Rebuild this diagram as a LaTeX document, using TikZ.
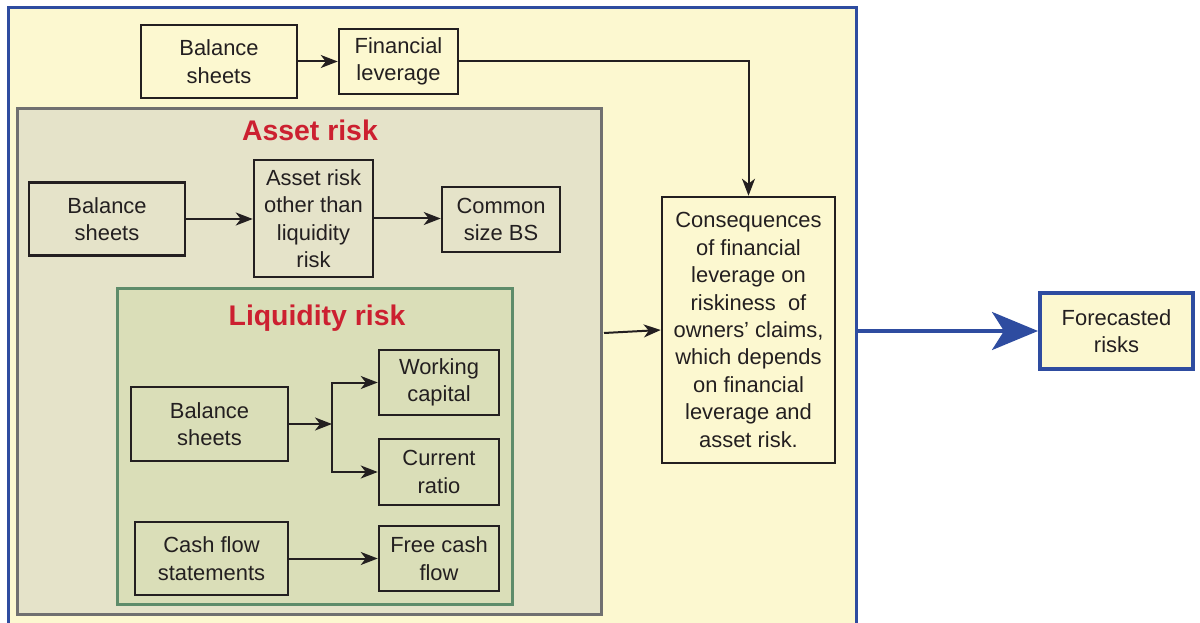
\documentclass[tikz,border=0pt]{standalone}
\usepackage{fontspec}
\setmainfont{Liberation Sans}
\usetikzlibrary{arrows.meta}
\definecolor{outerfill}{RGB}{252,248,208}
\definecolor{assetfill}{RGB}{229,227,201}
\definecolor{liqfill}{RGB}{218,222,184}
\definecolor{bluec}{RGB}{46,76,160}
\definecolor{grayc}{RGB}{112,112,112}
\definecolor{greenc}{RGB}{94,140,106}
\definecolor{redc}{RGB}{204,32,48}
\definecolor{inkc}{RGB}{35,31,32}
\tikzset{
  box/.style={draw=inkc, line width=2.5bp, inner sep=0pt, align=center, text=inkc,
    font=\fontsize{22}{27.5}\selectfont},
  title/.style={text=redc, font=\fontsize{28.5}{32}\selectfont\bfseries, inner sep=0pt},
  arr/.style={draw=inkc, line width=2bp, -{Stealth[length=17bp,width=13bp,inset=5bp]}},
  bigarr/.style={draw=bluec, line width=3.5bp, -{Stealth[length=46bp,width=38bp,inset=12bp]}},
}
\begin{document}
\begin{tikzpicture}[x=1bp,y=-1bp]
\useasboundingbox (0,0) rectangle (1200,623);
\clip (0,0) rectangle (1200,623);
\fill[white] (0,0) rectangle (1200,623);
% containers
\draw[draw=bluec, line width=3bp, fill=outerfill] (8,8) rectangle (856,650);
\draw[draw=grayc, line width=3bp, fill=assetfill] (17,109) rectangle (601,614);
\draw[draw=greenc, line width=3bp, fill=liqfill] (117,289) rectangle (512,604);
\node[title] (tasset) at (310,130) {Asset risk};
\node[title] (tliq) at (317,318) {Liquidity risk};
% boxes
\node[box, minimum width=156bp, minimum height=73bp] (bs1) at (219,61.5) {Balance\\sheets};
\node[box, minimum width=119bp, minimum height=65bp] (fl) at (398.5,61.5) {Financial\\leverage};
\node[box, minimum width=156bp, minimum height=73bp] (bs2) at (107,219) {Balance\\sheets};
\node[box, minimum width=119bp, minimum height=117bp] (ar) at (313.5,218.5) {Asset risk\\other than\\liquidity\\risk};
\node[box, minimum width=118bp, minimum height=65bp] (cs) at (501,219.5) {Common\\size BS};
\node[box, minimum width=157bp, minimum height=74bp] (bs3) at (209.5,424) {Balance\\sheets};
\node[box, minimum width=120bp, minimum height=65bp] (wc) at (439,382.5) {Working\\capital};
\node[box, minimum width=120bp, minimum height=66bp] (cr) at (439,472) {Current\\ratio};
\node[box, minimum width=153bp, minimum height=73bp] (cf) at (211.5,558.5) {Cash flow\\statements};
\node[box, minimum width=120bp, minimum height=65bp] (fc) at (439,558.5) {Free cash\\flow};
\node[box, fill=outerfill, minimum width=173bp, minimum height=266bp] (cons) at (748.5,330)
  {Consequences\\of financial\\leverage on\\riskiness\ \ of\\owners’ claims,\\which depends\\on financial\\leverage and\\asset risk.};
\node[box, draw=bluec, line width=4bp, fill=outerfill, minimum width=153bp, minimum height=76bp] (fr) at (1116.5,331) {Forecasted\\risks};
% connectors
\draw[arr] (bs1.east) -- (fl.west);
\draw[arr] (fl.east) -| (cons.north);
\draw[arr] (bs2.east) -- (bs2.east -| ar.west);
\draw[arr] (ar.east) -- (ar.east -| cs.west);
\coordinate (fork) at (332,424);
\draw[arr] (bs3.east) -- (fork);
\draw[arr] (fork) |- (wc.west);
\draw[arr] (fork) |- (cr.west);
\draw[arr] (cf.east) -- (cf.east -| fc.west);
\coordinate (aout) at (604,333);
\draw[arr] (aout) -- (cons.west);
\coordinate (oout) at (857,331);
\draw[bigarr] (oout) -- (fr.west);
\end{tikzpicture}
\end{document}
